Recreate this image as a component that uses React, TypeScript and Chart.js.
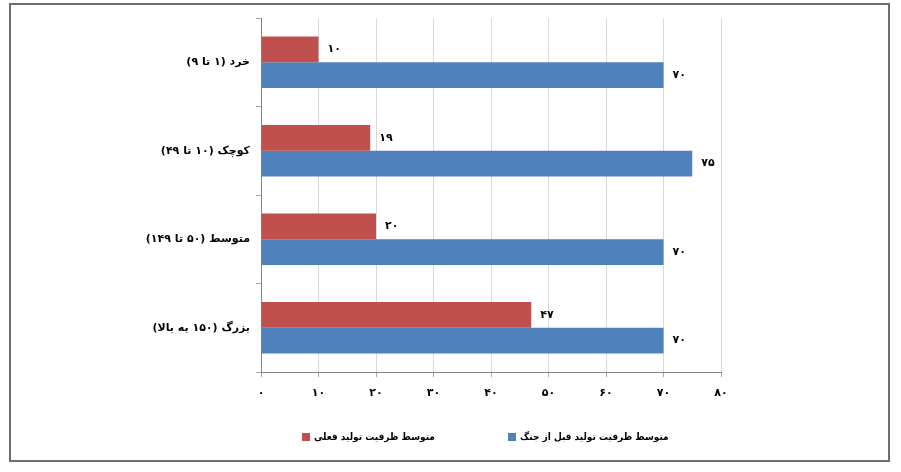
import { useEffect, useRef } from "react";
import { Chart, registerables } from "chart.js";

Chart.register(...registerables);

// داده‌ها از روی تصویر
const categories = [
  "خرد (۱ تا ۹)",
  "کوچک (۱۰ تا ۴۹)",
  "متوسط (۵۰ تا ۱۴۹)",
  "بزرگ (۱۵۰ به بالا)",
];
const currentCapacity = [10, 19, 20, 47];
const prewarCapacity = [70, 75, 70, 70];
const seriesNames = ["متوسط ظرفیت تولید فعلی", "متوسط ظرفیت تولید قبل از جنگ"];
const seriesColors = ["#C0504D", "#4F81BD"];
const axisMin = 0;
const axisMax = 80;
const axisStep = 10;

const FONT = "'DejaVu Sans', Tahoma, sans-serif";
const LEGEND_FONT = "'DejaVu Sans Condensed', 'DejaVu Sans', sans-serif";

const toPersian = (n: number | string) =>
  String(n).replace(/[0-9]/g, (d) => "۰۱۲۳۴۵۶۷۸۹"[Number(d)]);

const App = () => {
  const canvasRef = useRef<HTMLCanvasElement>(null);

  useEffect(() => {
    if (!canvasRef.current) return;

    // برچسب مقدار کنار هر میله
    const valueLabels = {
      id: "valueLabels",
      afterDatasetsDraw(chart: Chart) {
        const { ctx } = chart;
        ctx.save();
        ctx.font = `bold 11px ${FONT}`;
        ctx.fillStyle = "#000";
        ctx.textAlign = "left";
        ctx.textBaseline = "middle";
        chart.data.datasets.forEach((ds, i) => {
          chart.getDatasetMeta(i).data.forEach((el: any, j) => {
            ctx.fillText(toPersian(ds.data[j] as number), el.x + 9, el.y);
          });
        });
        ctx.restore();
      },
    };

    const chart = new Chart(canvasRef.current, {
      type: "bar",
      data: {
        labels: categories,
        datasets: [
          {
            label: seriesNames[0],
            data: currentCapacity,
            backgroundColor: seriesColors[0],
            categoryPercentage: 0.58,
            barPercentage: 1,
          },
          {
            label: seriesNames[1],
            data: prewarCapacity,
            backgroundColor: seriesColors[1],
            categoryPercentage: 0.58,
            barPercentage: 1,
          },
        ],
      },
      options: {
        indexAxis: "y",
        animation: false,
        responsive: true,
        maintainAspectRatio: false,
        layout: { padding: { left: 20, right: 180, top: 18, bottom: 70 } },
        scales: {
          x: {
            min: axisMin,
            max: axisMax,
            afterFit: (scale: any) => {
              scale.height = 30;
            },
            ticks: {
              stepSize: axisStep,
              padding: 10,
              color: "#000",
              font: { family: FONT, size: 11, weight: "bold" },
              callback: (v: any) => toPersian(v),
            },
            grid: { color: "#d9d9d9", tickColor: "#a6a6a6", tickLength: 5 },
            border: { color: "#868686" },
          },
          y: {
            afterFit: (scale: any) => {
              scale.width = 241;
            },
            ticks: {
              padding: 6,
              color: "#000",
              font: { family: FONT, size: 11, weight: "bold" },
            },
            grid: {
              offset: true,
              drawOnChartArea: false,
              tickLength: 5,
              color: "#a6a6a6",
            },
            border: { color: "#868686" },
          },
        },
        plugins: {
          legend: { display: false },
          tooltip: { enabled: false },
        },
      },
      plugins: [valueLabels],
    });

    return () => chart.destroy();
  }, []);

  const legendItem = (left: number, color: string, label: string) => (
    <div
      style={{
        position: "absolute",
        left,
        top: 431,
        display: "flex",
        alignItems: "center",
        gap: 4,
        font: `bold 10px ${LEGEND_FONT}`,
        color: "#000",
        whiteSpace: "nowrap",
      }}
    >
      <div style={{ width: 8, height: 8, background: color }} />
      <span dir="rtl">{label}</span>
    </div>
  );

  return (
    <div style={{ position: "absolute", left: 0, top: 0, width: 901, height: 472, background: "#fff" }}>
      <div style={{ position: "absolute", left: 0, top: 0, width: 901, height: 472 }}>
        <canvas ref={canvasRef}></canvas>
      </div>
      <div
        style={{
          position: "absolute",
          left: 9,
          top: 3,
          width: 881,
          height: 459,
          border: "2px solid #6e6e6e",
          boxSizing: "border-box",
          pointerEvents: "none",
        }}
      />
      {legendItem(302, seriesColors[0], seriesNames[0])}
      {legendItem(508, seriesColors[1], seriesNames[1])}
    </div>
  );
};

export default App;
